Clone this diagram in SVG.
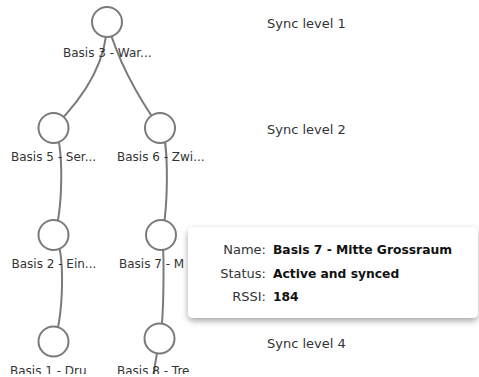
<svg xmlns="http://www.w3.org/2000/svg" width="479" height="377" viewBox="0 0 479 377">
  <defs>
    <style>
      .link { fill: none; stroke: #7a7a7a; stroke-width: 2; }
      .node circle { fill: #fff; stroke: #7a7a7a; stroke-width: 2; }
      .lbl { font-family: "DejaVu Sans", Verdana, sans-serif; font-size: 12px; fill: #333; }
      .lvl { font-family: "DejaVu Sans", Verdana, sans-serif; font-size: 13px; fill: #333; }
      .tk { font-family: "DejaVu Sans", Verdana, sans-serif; font-size: 13px; fill: #333; text-anchor: end; }
      .tv { font-family: "DejaVu Sans", Verdana, sans-serif; font-size: 12.3px; font-weight: bold; fill: #111; }
    </style>
    <clipPath id="view">
      <rect x="0" y="0" width="479" height="374"/>
    </clipPath>
    <filter id="shadow" x="-10%" y="-20%" width="120%" height="150%">
      <feDropShadow dx="0" dy="3" stdDeviation="3" flood-color="#000" flood-opacity="0.35"/>
    </filter>
  </defs>
  <rect x="0" y="0" width="479" height="377" fill="#fff"/>
  <g clip-path="url(#view)">
    <g id="levels">
      <text class="lvl" x="267" y="27.5">Sync level 1</text>
      <text class="lvl" x="267" y="134">Sync level 2</text>
      <text class="lvl" x="267" y="348">Sync level 4</text>
    </g>
    <g id="links">
      <path class="link" d="M107,22 Q107,75 53,128"/>
      <path class="link" d="M107,22 Q122,75 160,128"/>
      <path class="link" d="M53,128 C65,134 63,223 53,235"/>
      <path class="link" d="M160,128 C170,134 168,223 161,235"/>
      <path class="link" d="M53,235 C67,241 63,330 53,341"/>
      <path class="link" d="M161,235 C165,241 164,328 159.5,338"/>
      <path class="link" d="M159.5,338 L150,395"/>
    </g>
    <g id="node-basis3" class="node">
      <circle cx="107" cy="22" r="15"/>
      <text class="lbl" x="63" y="56.5">Basis 3 - War...</text>
    </g>
    <g id="node-basis5" class="node">
      <circle cx="53.5" cy="128" r="15"/>
      <text class="lbl" x="11" y="161">Basis 5 - Ser...</text>
    </g>
    <g id="node-basis6" class="node">
      <circle cx="160" cy="128" r="15"/>
      <text class="lbl" x="117" y="161">Basis 6 - Zwi...</text>
    </g>
    <g id="node-basis2" class="node">
      <circle cx="53.5" cy="235" r="15"/>
      <text class="lbl" x="11.5" y="268">Basis 2 - Ein...</text>
    </g>
    <g id="node-basis7" class="node">
      <circle cx="161" cy="235" r="15"/>
      <text class="lbl" x="119" y="268">Basis 7 - M</text>
    </g>
    <g id="node-basis1" class="node">
      <circle cx="53.5" cy="341.5" r="15"/>
      <text class="lbl" x="10" y="375">Basis 1 - Dru</text>
    </g>
    <g id="node-basis8" class="node">
      <circle cx="159.5" cy="338.5" r="15"/>
      <text class="lbl" x="117" y="375">Basis 8 - Tre</text>
    </g>
  </g>
  <g id="tooltip">
    <rect x="188" y="227" width="290" height="91" rx="5" ry="5" fill="#fff" filter="url(#shadow)"/>
    <text class="tk" x="266" y="254">Name:</text>
    <text class="tv" x="273" y="254">Basis 7 - Mitte Grossraum</text>
    <text class="tk" x="266" y="277.5">Status:</text>
    <text class="tv" x="273" y="277.5">Active and synced</text>
    <text class="tk" x="266" y="301">RSSI:</text>
    <text class="tv" x="273" y="301">184</text>
  </g>
</svg>
